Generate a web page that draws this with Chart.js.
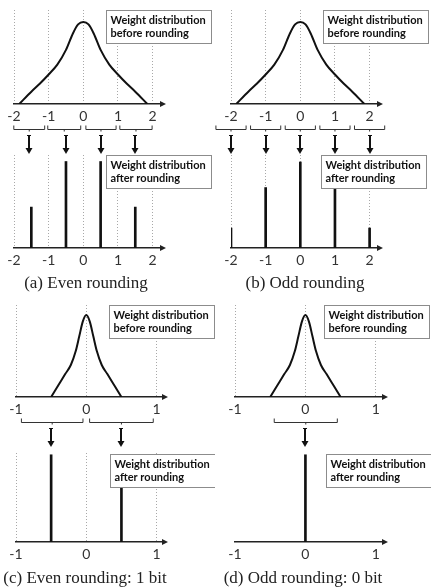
<!DOCTYPE html>
<html>
<head>
<meta charset="utf-8">
<script src="https://cdn.jsdelivr.net/npm/chart.js@4/dist/chart.umd.min.js"></script>
<style>
  body { margin: 0; background: #fff; }
  #wrap { position: relative; width: 431px; height: 587px; overflow: hidden; }
  .cv { position: absolute; }
  .cap { position: absolute; width: 220px; margin-left: -110px; text-align: center;
         font-family: "Liberation Serif", "Times New Roman", serif; font-size: 17px; color: #222; line-height: 20px; }
</style>
</head>
<body>
<div id="wrap">
  <canvas class="cv" id="aTop" width="215" height="148" style="left:0;top:10px"></canvas>
  <canvas class="cv" id="bTop" width="226" height="148" style="left:205px;top:10px"></canvas>
  <canvas class="cv" id="aBot" width="215" height="115" style="left:0;top:155px"></canvas>
  <canvas class="cv" id="bBot" width="226" height="115" style="left:205px;top:155px"></canvas>
  <canvas class="cv" id="cTop" width="215" height="146" style="left:0;top:305px"></canvas>
  <canvas class="cv" id="dTop" width="216" height="146" style="left:215px;top:305px"></canvas>
  <canvas class="cv" id="cBot" width="215" height="111" style="left:0;top:453px"></canvas>
  <canvas class="cv" id="dBot" width="216" height="111" style="left:215px;top:453px"></canvas>
  <div class="cap" style="left:86px;top:273px">(a) Even rounding</div>
  <div class="cap" style="left:305px;top:273px">(b) Odd rounding</div>
  <div class="cap" style="left:85px;top:568px">(c) Even rounding: 1 bit</div>
  <div class="cap" style="left:303px;top:568px">(d) Odd rounding: 0 bit</div>
</div>
<script>
// tick labels
const wideTicks = [-2, -1, 0, 1, 2];
const narrowTicks = [-1, 0, 1];

// weight distribution before rounding
const wideCurveX = [-1.85, -1.5, -1.25, -1, -0.75, -0.5, -0.3, -0.15, 0, 0.15, 0.3, 0.5, 0.75, 1, 1.25, 1.5, 1.85];
const wideCurveY = [0, 0.15, 0.25, 0.36, 0.48, 0.66, 0.86, 0.97, 1, 0.97, 0.86, 0.66, 0.48, 0.36, 0.25, 0.15, 0];
const narrowCurveX = [-0.5, -0.4, -0.3, -0.22, -0.15, -0.1, -0.05, 0, 0.05, 0.1, 0.15, 0.22, 0.3, 0.4, 0.5];
const narrowCurveY = [0, 0.14, 0.28, 0.39, 0.56, 0.74, 0.92, 1, 0.92, 0.74, 0.56, 0.39, 0.28, 0.14, 0];

// weight distribution after rounding
const evenBarX = [-1.5, -0.5, 0.5, 1.5];
const evenBarY = [0.44, 0.93, 0.93, 0.44];
const oddBarX = [-2, -1, 0, 1, 2];
const oddBarY = [0.215, 0.65, 0.925, 0.65, 0.215];
const bit1BarX = [-0.5, 0.5];
const bit1BarY = [0.98, 0.98];
const bit0BarX = [0];
const bit0BarY = [0.98];

// rounding intervals and where they go
const evenBrackets = [[-2.02, -1.1], [-1.04, -0.06], [0.06, 0.96], [1.04, 2.0]];
const evenArrows = [-1.56, -0.5, 0.5, 1.5];
const oddBrackets = [[-2.45, -1.55], [-1.45, -0.55], [-0.45, 0.45], [0.55, 1.45], [1.55, 2.45]];
const oddArrows = [-2, -1, 0, 1, 2];
const bit1Brackets = [[-0.93, -0.04], [0.04, 0.96]];
const bit1Arrows = [-0.5, 0.5];
const bit0Brackets = [[-0.45, 0.46]];
const bit0Arrows = [0];

const beforeText = ['Weight distribution', 'before rounding'];
const afterText = ['Weight distribution', 'after rounding'];

const deco = {
  id: 'deco',
  afterDraw(chart, args, o) {
    const { ctx, chartArea } = chart;
    const sx = chart.scales.x;
    const ay = chartArea.bottom;
    ctx.save();
    // axis arrow head
    ctx.fillStyle = '#222';
    ctx.beginPath();
    ctx.moveTo(chartArea.right + 3, ay);
    ctx.lineTo(chartArea.right - 3, ay - 3);
    ctx.lineTo(chartArea.right - 3, ay + 3);
    ctx.closePath();
    ctx.fill();
    // brackets
    ctx.strokeStyle = '#333';
    ctx.lineWidth = 1;
    (o.brackets || []).forEach(([lo, hi]) => {
      const x1 = sx.getPixelForValue(lo), x2 = sx.getPixelForValue(hi);
      const y = ay + 25.5, m = (x1 + x2) / 2;
      ctx.beginPath();
      ctx.moveTo(x1 + 0.5, y - 4);
      ctx.lineTo(x1 + 0.5, y);
      ctx.lineTo(x2 - 0.5, y);
      ctx.lineTo(x2 - 0.5, y - 4);
      ctx.moveTo(m, y);
      ctx.lineTo(m, y + 2);
      ctx.stroke();
    });
    // arrows
    (o.arrows || []).forEach(v => {
      const x = Math.round(sx.getPixelForValue(v));
      const y0 = ay + 31, y1 = ay + 50;
      ctx.fillStyle = '#111';
      ctx.fillRect(x - 1, y0, 2, y1 - y0 - 5);
      ctx.fillRect(x - 2, y0, 4, 1);
      ctx.beginPath();
      ctx.moveTo(x - 3.5, y1 - 6);
      ctx.lineTo(x + 3.5, y1 - 6);
      ctx.lineTo(x, y1);
      ctx.closePath();
      ctx.fill();
    });
    // label box
    if (o.box) {
      const bx = o.box.x + 0.5, by = chartArea.top + o.box.y + 0.5;
      ctx.fillStyle = '#fff';
      ctx.strokeStyle = '#8c8c8c';
      ctx.fillRect(bx, by, 105, 33);
      ctx.strokeRect(bx, by, 105, 33);
      ctx.fillStyle = '#111';
      ctx.font = 'bold 11px Lato';
      ctx.textBaseline = 'middle';
      o.box.lines.forEach((t, i) => ctx.fillText(t, bx + 4, by + 10 + i * 13));
    }
    ctx.restore();
  }
};

function xScale(min, max, ticks, axisH, showGrid) {
  return {
    type: 'linear', min, max, offset: false,
    afterBuildTicks: s => { s.ticks = ticks.map(v => ({ value: v })); },
    afterFit: s => { s.height = axisH; },
    grid: { display: showGrid, offset: false, color: '#a8a8a8', lineWidth: 1, drawTicks: false },
    border: { display: true, color: '#222', width: 1.5, dash: [1, 2] },
    ticks: { color: '#333', font: { family: 'Lato', size: 14 }, padding: 4, maxRotation: 0, autoSkip: false }
  };
}

function baseOptions(pad, x, ymax, decoOpts) {
  return {
    responsive: false, animation: false,
    layout: { padding: { left: pad[0], right: pad[1], top: 0, bottom: 0 } },
    plugins: { legend: { display: false }, tooltip: { enabled: false }, deco: decoOpts },
    scales: { x, y: { display: false, min: 0, max: ymax } }
  };
}

function curveChart(id, xs, ys, pad, min, max, ticks, ymax, decoOpts) {
  new Chart(document.getElementById(id), {
    type: 'line',
    data: { datasets: [{
      data: xs.map((x, i) => ({ x, y: ys[i] })),
      borderColor: '#111', borderWidth: 2, pointRadius: 0,
      cubicInterpolationMode: 'monotone', fill: false
    }] },
    options: baseOptions(pad, xScale(min, max, ticks, 54, true), ymax, decoOpts),
    plugins: [deco]
  });
}

function barChart(id, xs, ys, pad, min, max, ticks, showGrid, decoOpts) {
  new Chart(document.getElementById(id), {
    type: 'bar',
    data: { datasets: [{
      data: xs.map((x, i) => ({ x, y: ys[i] })),
      backgroundColor: '#111', barThickness: 2
    }] },
    options: baseOptions(pad, xScale(min, max, ticks, 22, showGrid), 1, decoOpts),
    plugins: [deco]
  });
}

curveChart('aTop', wideCurveX, wideCurveY, [14, 52], -2, 2.3, wideTicks, 1.146,
  { brackets: evenBrackets, arrows: evenArrows, box: { x: 106, y: 0, lines: beforeText } });
curveChart('bTop', wideCurveX, wideCurveY, [26, 51], -2, 2.3, wideTicks, 1.146,
  { brackets: oddBrackets, arrows: oddArrows, box: { x: 118, y: 0, lines: beforeText } });
barChart('aBot', evenBarX, evenBarY, [14, 52], -2, 2.3, wideTicks, true,
  { box: { x: 106, y: 0, lines: afterText } });
barChart('bBot', oddBarX, oddBarY, [26, 51], -2, 2.3, wideTicks, true,
  { box: { x: 116, y: 0, lines: afterText } });

curveChart('cTop', narrowCurveX, narrowCurveY, [16, 50], -1, 1.12, narrowTicks, 1.122,
  { brackets: bit1Brackets, arrows: bit1Arrows, box: { x: 109, y: 0, lines: beforeText } });
curveChart('dTop', narrowCurveX, narrowCurveY, [20, 46], -1, 1.13, narrowTicks, 1.122,
  { brackets: bit0Brackets, arrows: bit0Arrows, box: { x: 109, y: 0, lines: beforeText } });
barChart('cBot', bit1BarX, bit1BarY, [16, 50], -1, 1.12, narrowTicks, true,
  { box: { x: 110, y: 1, lines: afterText } });
barChart('dBot', bit0BarX, bit0BarY, [20, 46], -1, 1.13, narrowTicks, false,
  { box: { x: 111, y: 1, lines: afterText } });
</script>
</body>
</html>
